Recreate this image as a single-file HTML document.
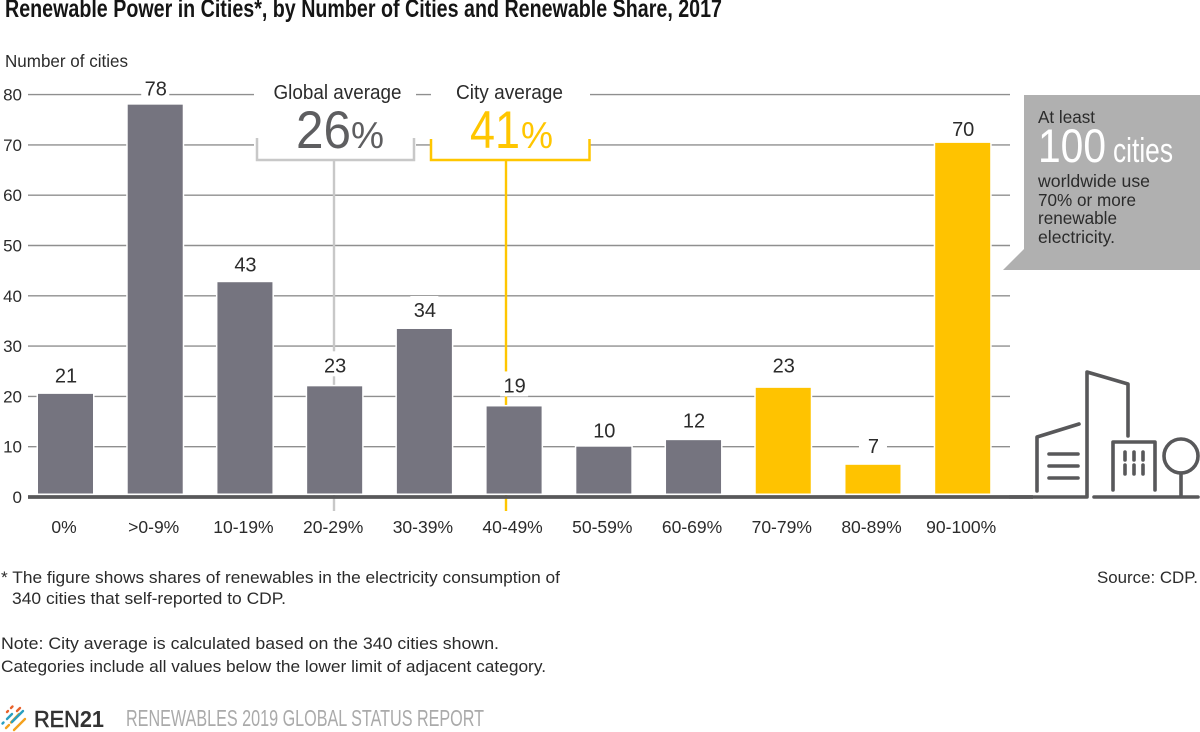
<!DOCTYPE html>
<html lang="en">
<head>
<meta charset="utf-8">
<title>Renewable Power in Cities</title>
<style>
html,body{margin:0;padding:0;background:#fff;width:1200px;height:732px;overflow:hidden}
svg{display:block}
text{font-family:"Liberation Sans",sans-serif;fill:#2b2b2b}
.narrow{font-family:"Liberation Sans Narrow","Liberation Sans",sans-serif}
</style>
</head>
<body>
<svg id="chart" xmlns="http://www.w3.org/2000/svg" width="1200" height="732" viewBox="0 0 1200 732">
  <text class="narrow" x="5" y="17" font-size="25" font-weight="700" textLength="717" lengthAdjust="spacingAndGlyphs" style="fill:#151515">Renewable Power in Cities*, by Number of Cities and Renewable Share, 2017</text>
  <text x="5" y="67" font-size="17.500" textLength="123" lengthAdjust="spacingAndGlyphs">Number of cities</text>
  <g id="grid"></g>
  <g id="ylabels"></g>
  <g id="refs"></g>
  <g id="bars"></g>
  <line id="baseline" x1="28" y1="497" x2="1033" y2="497" stroke="#58585a" stroke-width="3.800"/>
  <g id="values"></g>
  <g id="xlabels"></g>

  <g>
    <rect x="254" y="78" width="162" height="82" fill="#fff"/>
    <text x="337.500" y="99" font-size="20" text-anchor="middle" textLength="128" lengthAdjust="spacingAndGlyphs">Global average</text>
    <text x="296" y="148" font-size="53" style="fill:#5e5e60" textLength="55" lengthAdjust="spacingAndGlyphs">26</text>
    <text x="351" y="148" font-size="37" style="fill:#5e5e60" textLength="33" lengthAdjust="spacingAndGlyphs">%</text>
    <path d="M257 138V160H414V138" fill="none" stroke="#c8c8c8" stroke-width="2.500"/>
  </g>
  <g>
    <rect x="431" y="78" width="159" height="82" fill="#fff"/>
    <text x="509.500" y="99" font-size="20" text-anchor="middle" textLength="107" lengthAdjust="spacingAndGlyphs">City average</text>
    <text x="470" y="148" font-size="53" style="fill:#ffc600" textLength="50" lengthAdjust="spacingAndGlyphs">41</text>
    <text x="521" y="148" font-size="37" style="fill:#ffc600" textLength="32" lengthAdjust="spacingAndGlyphs">%</text>
    <path d="M431 139V160H589.500V139" fill="none" stroke="#ffc600" stroke-width="2.500"/>
  </g>

  <g>
    <polygon points="1024,95 1200,95 1200,270 1003,270 1024,249" fill="#b0b0b0"/>
    <text x="1038" y="123" font-size="17.500" textLength="57" lengthAdjust="spacingAndGlyphs">At least</text>
    <text x="1038" y="162" font-size="47" style="fill:#fff" textLength="68" lengthAdjust="spacingAndGlyphs">100</text>
    <text class="narrow" x="1113" y="162" font-size="34" style="fill:#fff" textLength="60" lengthAdjust="spacingAndGlyphs">cities</text>
    <text x="1038" y="187" font-size="17.500" textLength="112" lengthAdjust="spacingAndGlyphs">worldwide use</text>
    <text x="1038" y="206" font-size="17.500" textLength="98" lengthAdjust="spacingAndGlyphs">70% or more</text>
    <text x="1038" y="224" font-size="17.500" textLength="79" lengthAdjust="spacingAndGlyphs">renewable</text>
    <text x="1038" y="243" font-size="17.500" textLength="77" lengthAdjust="spacingAndGlyphs">electricity.</text>
  </g>

  <g fill="none" stroke="#58585a" stroke-width="3.600" stroke-linecap="round" stroke-linejoin="round">
    <path d="M1010 497H1087V372L1128 384V436"/>
    <path d="M1037 491V437L1079 424"/>
    <path d="M1049 454H1078M1049 466H1078M1049 478H1078"/>
    <path d="M1113 490V442H1155V490"/>
    <path d="M1125 452V460M1134 452V460M1143 452V460M1125 465V474M1134 465V474M1143 465V474"/>
    <circle cx="1181" cy="456" r="17"/>
    <path d="M1181 473V497M1094 497H1198"/>
  </g>

  <g>
    <text x="1" y="583" font-size="17" textLength="559" lengthAdjust="spacingAndGlyphs">* The figure shows shares of renewables in the electricity consumption of</text>
    <text x="12" y="604" font-size="17" textLength="274" lengthAdjust="spacingAndGlyphs">340 cities that self-reported to CDP.</text>
    <text x="1" y="649" font-size="17" textLength="498" lengthAdjust="spacingAndGlyphs">Note: City average is calculated based on the 340 cities shown.</text>
    <text x="1" y="672" font-size="17" textLength="545" lengthAdjust="spacingAndGlyphs">Categories include all values below the lower limit of adjacent category.</text>
    <text x="1097" y="583" font-size="17" textLength="101" lengthAdjust="spacingAndGlyphs">Source: CDP.</text>
  </g>

  <g stroke-width="2.400" stroke-linecap="round">
    <path d="M2.500 723.500L3.500 722.500M7 719L12 714" stroke="#2a9fc0"/>
    <path d="M6 728L9 725M11 722.500L19 714" stroke="#f4a11d"/>
    <path d="M11 708L12.500 706.500M7 712L8 711" stroke="#e8622c"/>
    <path d="M12 722L23 711" stroke="#2a9fc0"/>
    <path d="M17 711L20 708" stroke="#e8622c"/>
    <path d="M14 730L25 719" stroke="#f4a11d"/>
  </g>
  <text x="34" y="727" font-size="23.500" style="fill:#333" textLength="70" lengthAdjust="spacingAndGlyphs"><tspan stroke="#333" stroke-width="0.600">REN</tspan><tspan font-weight="700">21</tspan></text>
  <text class="narrow" x="126" y="726" font-size="23" style="fill:#aaa" textLength="358" lengthAdjust="spacingAndGlyphs">RENEWABLES 2019 GLOBAL STATUS REPORT</text>
</svg>
<script>
var categories = ['0%', '>0-9%', '10-19%', '20-29%', '30-39%', '40-49%', '50-59%', '60-69%', '70-79%', '80-89%', '90-100%'];
var barValues = [20.5, 78, 42.7, 22, 33.4, 18, 10, 11.3, 21.7, 6.4, 70.4];
var printedValues = [21, 78, 43, 23, 34, 19, 10, 12, 23, 7, 70];
var highShare = [false, false, false, false, false, false, false, false, true, true, true];
var yTicks = [0, 10, 20, 30, 40, 50, 60, 70, 80];

var NS = 'http://www.w3.org/2000/svg';
function yScale(v) { return 497 - v * 5.03; }
function xScale(i) { return 65.5 + i * 89.72; }
function make(tag, parent, attrs, text) {
  var el = document.createElementNS(NS, tag);
  for (var k in attrs) { el.setAttribute(k, attrs[k]); }
  if (text !== undefined) { el.textContent = text; }
  parent.appendChild(el);
  return el;
}
var grid = document.getElementById('grid');
var ylabels = document.getElementById('ylabels');
var refs = document.getElementById('refs');
var bars = document.getElementById('bars');
var values = document.getElementById('values');
var xlabels = document.getElementById('xlabels');

yTicks.forEach(function (t) {
  if (t > 0) {
    var gl = make('line', grid, { x1: 28, x2: 1010, y1: yScale(t), y2: yScale(t), stroke: '#8f8f8f', 'stroke-width': 1.4 });
    
    
  }
  var yl = make('text', ylabels, { x: 22, y: yScale(t) + 6, 'font-size': 17, 'text-anchor': 'end' }, String(t));
  
  
});

var globalLine = make('line', refs, { x1: 334, x2: 334, y1: 160, y2: 511, stroke: '#c8c8c8', 'stroke-width': 2.4 });


var cityLine = make('line', refs, { x1: 506, x2: 506, y1: 160, y2: 511, stroke: '#ffc600', 'stroke-width': 2.4 });



categories.forEach(function (c, i) {
  var cx = xScale(i);
  var top = yScale(barValues[i]);
  var labelY = yScale(printedValues[i]) - 9;
  var r = make('rect', bars, {
    x: cx - 27.5, y: top, width: 55, height: 493.5 - top,
    fill: highShare[i] ? '#ffc300' : '#75747f', stroke: '#fff', 'stroke-width': 3, 'paint-order': 'stroke'
  });
  
  

  var bg = make('rect', values, { x: cx - 14, y: labelY - 21, width: 28, height: 25, fill: '#fff' });
  
  

  var vl = make('text', values, { x: cx + 0.5, y: labelY, 'font-size': 20, 'text-anchor': 'middle' }, String(printedValues[i]));
  
  

  var xl = make('text', xlabels, { x: cx - 1.5, y: 533, 'font-size': 17.5, 'text-anchor': 'middle' }, c);
  
  
});
</script>
</body>
</html>
